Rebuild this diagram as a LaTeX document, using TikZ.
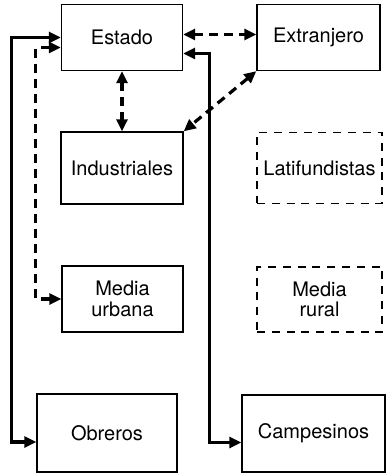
\documentclass[tikz,border=0pt]{standalone}
\usepackage{fontspec}
\setmainfont{TeX Gyre Heros}
\usetikzlibrary{arrows.meta}
\tikzset{
	box/.style={draw,line width=0.7pt,align=center,inner sep=0pt,font=\fontsize{10}{10.2}\selectfont},
	weakbox/.style={box,dash pattern=on 4pt off 3.4pt},
	strong/.style={line width=1.6pt,{Triangle[length=6pt,width=5.5pt]}-{Triangle[length=6pt,width=5.5pt]}},
	weak/.style={strong,dash pattern=on 4.5pt off 3pt}
}
\begin{document}
\begin{tikzpicture}[x=0.5pt,y=-0.5pt]
	\useasboundingbox (0,0) rectangle (386,475);

	\node[box,minimum width=60.5pt,minimum height=33pt] (estado) at (122,37.5) {Estado};
	\node[box,minimum width=61.5pt,minimum height=33pt] (extranjero) at (318.5,37.5) {Extranjero};
	\node[box,minimum width=61pt,minimum height=36pt] (industriales) at (122,168) {Industriales};
	\node[weakbox,minimum width=62.5pt,minimum height=35.5pt] (latifundistas) at (319.5,168) {Latifundistas};
	\node[box,minimum width=60.5pt,minimum height=33pt] (urbana) at (122.5,299) {Media\\urbana};
	\node[weakbox,minimum width=62.5pt,minimum height=32.5pt] (rural) at (319.5,299.5) {Media\\rural};
	\node[box,minimum width=70pt,minimum height=39pt] (obreros) at (107,433) {Obreros};
	\node[box,minimum width=71.5pt,minimum height=38.5pt] (campesinos) at (313.5,433.5) {Campesinos};

	% solid links down to the bottom row
	\draw[strong] (estado.west) -- ++(-49,0) |- ([yshift=-4.5pt]obreros.west);
	\draw[strong] ([yshift=-8pt]estado.east) -- ++(26,0) |- ([yshift=-4.5pt]campesinos.west);

	% dashed links
	\draw[weak] ([yshift=-5pt]estado.west) -- ++(-25,0) |- (urbana.west);
	\draw[weak] (estado.south) -- (industriales.north);
	\draw[weak] ([yshift=1.5pt]estado.east) -- ([yshift=1.5pt]extranjero.west);
	\draw[weak] (extranjero.south west) -- (industriales.north east);
\end{tikzpicture}
\end{document}
